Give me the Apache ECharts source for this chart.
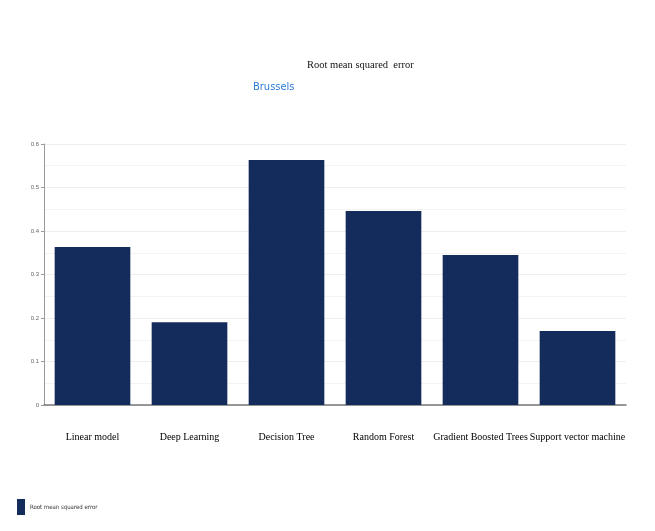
<!DOCTYPE html>
<html>
<head>
<meta charset="utf-8">
<script src="https://cdn.jsdelivr.net/npm/echarts@6/dist/echarts.min.js"></script>
<style>
  html, body { margin: 0; padding: 0; background: #fff; }
  #chart { width: 655px; height: 531px; }
</style>
</head>
<body>
<div id="chart"></div>
<script>
const categories = ['Linear model', 'Deep Learning', 'Decision Tree', 'Random Forest', 'Gradient Boosted Trees', 'Support vector machine'];
const rmseValues = [0.363, 0.19, 0.563, 0.446, 0.345, 0.17];
const seriesName = 'Root mean squared error';

const chart = echarts.init(document.getElementById('chart'));

const options = {
  backgroundColor: '#fff',
  animation: false,
  title: [
    {
      text: 'Root mean squared  error',
      left: 302, top: 55,
      textStyle: { fontFamily: 'Liberation Serif', fontSize: 10.5, fontWeight: 'normal', color: '#111' }
    },
    {
      text: 'Brussels',
      left: 248, top: 77,
      textStyle: { fontFamily: 'DejaVu Sans Condensed', fontSize: 11, fontWeight: 'normal', color: '#2e7bd6' }
    }
  ],
  legend: {
    left: 12, top: 494,
    itemWidth: 8, itemHeight: 16,
    icon: 'rect',
    itemGap: 4,
    textStyle: { fontSize: 6, color: '#333', fontFamily: 'DejaVu Sans Condensed' },
    data: [seriesName]
  },
  grid: { left: 44, right: 29, top: 144, bottom: 126 },
  xAxis: {
    type: 'category',
    data: categories,
    axisLine: { lineStyle: { color: '#777', width: 1.5 } },
    axisTick: { show: false },
    axisLabel: {
      color: '#000', fontFamily: 'Liberation Serif', fontSize: 10, margin: 27, interval: 0
    }
  },
  yAxis: {
    type: 'value',
    min: 0, max: 0.6, interval: 0.1,
    axisLine: { show: true, lineStyle: { color: '#999' } },
    axisTick: { show: true, length: 3, lineStyle: { color: '#999' } },
    axisLabel: { color: '#666', fontSize: 6, margin: 5 },
    splitLine: { lineStyle: { color: '#eee' } },
    minorTick: { show: false, splitNumber: 2 },
    minorSplitLine: { show: true, lineStyle: { color: '#f3f3f3' } }
  },
  series: [
    {
      name: seriesName,
      type: 'bar',
      data: rmseValues,
      barCategoryGap: '22%',
      itemStyle: { color: '#142c5c' }
    }
  ]
};

chart.setOption(options);
</script>
</body>
</html>
